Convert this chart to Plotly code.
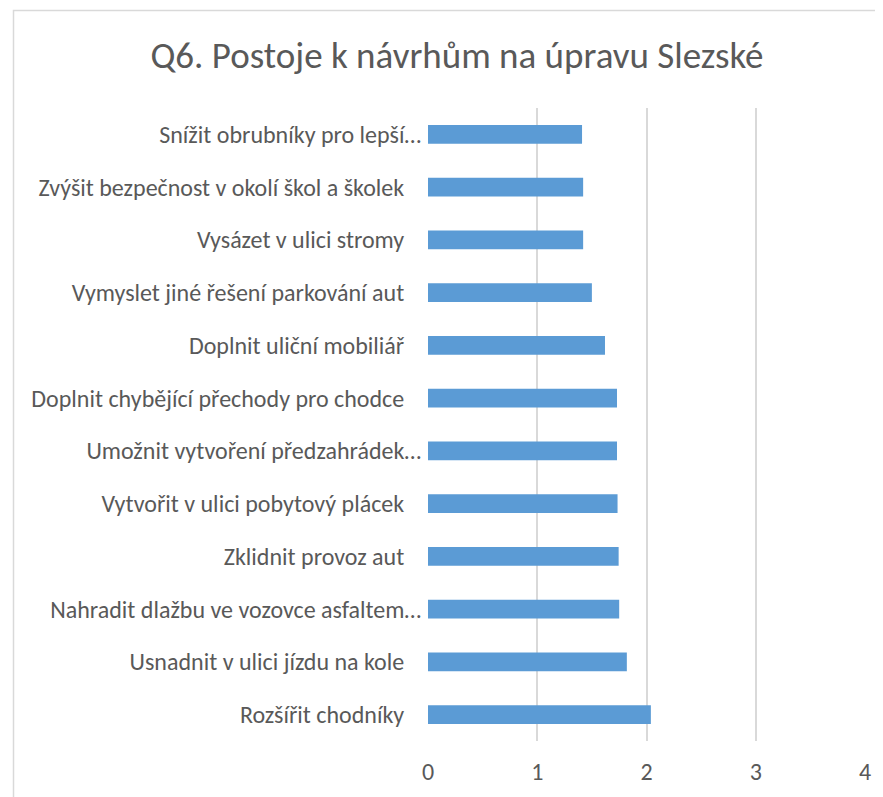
import plotly.graph_objects as go

categories = [
    "Snížit obrubníky pro lepší…",
    "Zvýšit bezpečnost v okolí škol a školek",
    "Vysázet v ulici stromy",
    "Vymyslet jiné řešení parkování aut",
    "Doplnit uliční mobiliář",
    "Doplnit chybějící přechody pro chodce",
    "Umožnit vytvoření předzahrádek…",
    "Vytvořit v ulici pobytový plácek",
    "Zklidnit provoz aut",
    "Nahradit dlažbu ve vozovce asfaltem…",
    "Usnadnit v ulici jízdu na kole",
    "Rozšířit chodníky",
]
values = [1.41, 1.42, 1.42, 1.50, 1.62, 1.73, 1.73, 1.735, 1.745, 1.75, 1.82, 2.04]
x_ticks = [0, 1, 2, 3, 4]
title_text = "Q6. Postoje k návrhům na úpravu Slezské"

# page body has an 8px margin; the figure is sized/offset to compensate
OFF = 8
W, H = 883 - OFF, 797 - OFF
L, T = 428 - OFF, 108 - OFF
R = W - (865 - OFF)
B = H - (741 - OFF)
pw, ph = W - L - R, H - T - B

# pad labels without ellipsis so ellipsis spills further right, as in the reference
ticktext = [c if c.endswith("…") else c + "\u2002\u2009" for c in categories]

fig = go.Figure(
    go.Bar(
        x=values,
        y=categories,
        orientation="h",
        marker=dict(color="#5B9BD5", line=dict(width=0)),
        hoverinfo="x+y",
    )
)

font_family = "Carlito, Lato, 'Open Sans', sans-serif"

fig.update_layout(
    width=W,
    height=H,
    margin=dict(l=L, r=R, t=T, b=B, autoexpand=False),
    paper_bgcolor="white",
    plot_bgcolor="white",
    bargap=0.645,
    showlegend=False,
    font=dict(family=font_family, color="#595959", size=24),
    title=dict(
        text=title_text,
        x=(457 - OFF) / W,
        xanchor="center",
        y=1 - (55 - OFF) / H,
        yanchor="middle",
        font=dict(size=37, color="#595959", family=font_family),
    ),
    xaxis=dict(
        range=[0, 4],
        tickvals=x_ticks,
        showgrid=True,
        gridcolor="#D9D9D9",
        gridwidth=1.5,
        zeroline=False,
        showline=False,
        ticks="",
        tickfont=dict(size=24, color="#595959"),
        ticklabelstandoff=14,
        fixedrange=True,
    ),
    yaxis=dict(
        categoryorder="array",
        categoryarray=categories,
        tickvals=categories,
        ticktext=ticktext,
        autorange="reversed",
        showgrid=False,
        zeroline=False,
        showline=False,
        ticks="",
        tickfont=dict(size=24, color="#595959"),
        ticklabelstandoff=6,
        automargin=False,
    ),
    shapes=[
        dict(
            type="rect",
            xref="paper",
            yref="paper",
            x0=(13.5 - 428) / pw,
            x1=(883 + 20 - 428) / pw,
            y0=(-(20 + B)) / ph,
            y1=(741 - 10.5) / ph,
            line=dict(color="#D9D9D9", width=1.5),
            fillcolor="rgba(0,0,0,0)",
            layer="below",
        )
    ],
)

fig.write_html("out.html")
